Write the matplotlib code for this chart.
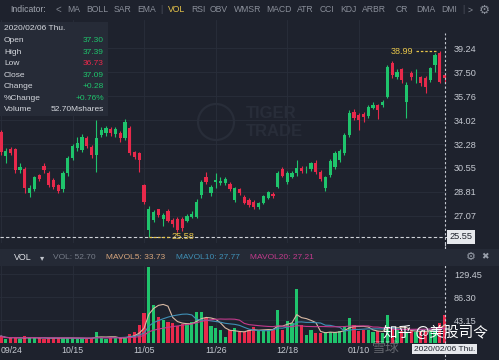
import numpy as np
import pandas as pd
import matplotlib
matplotlib.use('Agg')
import matplotlib.pyplot as plt
from matplotlib.patches import Rectangle, Ellipse

plt.rcParams['font.family'] = ['Liberation Sans', 'DejaVu Sans']

# daily candles, 09/24/2019 .. 02/06/2020
opens  = [33.15, 31.41, 31.92, 31.92, 30.40, 30.47, 28.73, 29.02, 30.04, 30.69,
          30.18, 29.67, 29.31, 29.02, 30.18, 31.27, 31.99, 31.85, 32.72, 32.07,
          31.49, 32.94, 33.08, 33.37, 33.01, 33.08, 32.72, 33.44, 31.70, 31.63,
          29.31, 26.05, 26.78, 27.57, 26.85, 27.43, 26.78, 26.85, 26.85, 26.70,
          27.00, 27.00, 28.59, 29.89, 28.73, 29.53, 29.46, 29.46, 29.39, 28.23,
          29.02, 28.44, 28.23, 28.08, 27.72, 28.01, 28.37, 28.66, 29.17, 30.47,
          29.53, 29.89, 30.18, 30.54, 30.45, 30.47, 30.91, 30.25, 29.10, 30.04,
          30.62, 31.12, 31.63, 32.94, 34.60, 34.38, 34.46, 34.31, 34.89, 35.11,
          35.11, 35.69, 38.15, 37.14, 37.72, 35.33, 37.43, 37.40, 37.14, 37.07,
          36.92, 38.01, 38.87, 37.30]
highs  = [33.30, 32.00, 32.10, 32.00, 30.90, 30.60, 29.30, 30.00, 30.10, 30.90,
          30.30, 29.80, 29.40, 30.30, 31.40, 32.30, 32.80, 33.00, 32.90, 32.20,
          34.02, 33.50, 33.60, 33.50, 33.50, 33.20, 34.10, 33.60, 31.80, 31.70,
          29.40, 27.80, 27.50, 27.60, 27.30, 27.60, 26.90, 27.00, 27.00, 27.20,
          27.40, 28.30, 29.70, 30.25, 29.30, 30.20, 29.90, 29.90, 29.50, 29.20,
          29.10, 28.60, 28.40, 28.20, 28.10, 28.60, 28.90, 28.80, 30.30, 30.60,
          30.30, 30.30, 31.12, 30.70, 30.70, 31.00, 31.12, 30.40, 30.00, 31.20,
          31.80, 31.90, 33.10, 34.75, 34.80, 34.50, 34.60, 35.10, 35.30, 35.20,
          35.50, 38.00, 38.30, 37.70, 37.80, 36.80, 37.60, 37.70, 37.20, 37.20,
          37.90, 38.90, 38.99, 37.39]
lows   = [31.50, 30.91, 31.50, 30.18, 30.20, 28.73, 28.44, 28.90, 29.60, 30.20,
          29.20, 29.00, 28.70, 28.80, 30.00, 31.10, 31.80, 31.70, 32.00, 31.30,
          30.25, 32.80, 32.90, 32.90, 32.80, 32.40, 32.60, 31.50, 31.20, 30.25,
          27.95, 25.58, 26.60, 27.00, 26.34, 26.60, 26.30, 25.90, 26.00, 26.60,
          26.90, 26.90, 28.40, 29.40, 28.50, 29.10, 29.30, 29.30, 28.90, 28.10,
          28.60, 27.90, 27.70, 27.60, 27.60, 27.90, 28.30, 28.40, 29.10, 29.90,
          29.40, 29.80, 30.00, 30.20, 30.20, 30.30, 30.10, 29.60, 28.88, 29.90,
          30.50, 31.00, 31.50, 32.80, 34.00, 33.30, 33.90, 34.20, 34.80, 34.10,
          35.00, 35.60, 37.10, 37.00, 36.70, 34.17, 36.90, 36.70, 36.50, 36.00,
          36.80, 37.50, 36.70, 36.73]
closes = [31.70, 31.78, 31.63, 30.40, 30.62, 29.10, 29.10, 29.89, 29.75, 30.40,
          29.31, 29.17, 28.88, 30.18, 31.27, 32.14, 32.36, 32.79, 32.14, 31.49,
          32.72, 33.30, 33.44, 33.08, 33.37, 32.72, 33.88, 31.63, 31.34, 31.12,
          28.08, 27.57, 27.36, 27.14, 27.14, 26.70, 26.49, 26.05, 26.20, 27.07,
          27.21, 28.08, 29.53, 29.53, 29.17, 29.67, 29.60, 29.75, 29.02, 29.10,
          28.73, 28.01, 27.86, 27.72, 28.01, 28.52, 28.81, 28.52, 30.18, 29.96,
          30.18, 30.18, 30.54, 30.33, 30.47, 30.91, 30.25, 29.75, 29.89, 31.05,
          31.63, 31.78, 32.94, 34.53, 34.17, 34.02, 34.24, 34.96, 35.11, 34.75,
          35.33, 37.86, 37.28, 37.50, 36.92, 36.56, 37.14, 37.45, 36.70, 36.41,
          37.79, 38.73, 36.81, 37.09]
volumes = [13, 8, 9, 11, 7, 13, 9, 10, 9, 8,
           10, 9, 10, 9, 9, 9, 8, 9, 8, 9,
           21, 10, 8, 10, 9, 10, 12, 17, 20, 34,
           56, 143, 71, 49, 43, 40, 37, 32, 35, 37,
           40, 58, 58, 47, 32, 28, 24, 11, 24, 28,
           21, 21, 24, 30, 24, 24, 24, 24, 62, 24,
           41, 38, 101, 34, 15, 24, 18, 18, 21, 21,
           21, 23, 30, 47, 33, 22, 24, 24, 20, 22,
           18, 52, 26, 25, 22, 20, 24, 21, 22, 22,
           26, 30, 38, 52.70]

price_ticks = [39.24, 37.50, 35.76, 34.02, 32.28, 30.55, 28.81, 27.07]
vol_ticks = [129.45, 86.30, 43.15]
date_tick_idx = [0, 15, 30, 45, 60, 75]
date_tick_labels = ['09/24', '10/15', '11/05', '11/26', '12/18', '01/10']
cursor_price = 25.55

menu_items = ['MA', 'BOLL', 'SAR', 'EMA', '|', 'VOL', 'RSI', 'OBV', 'WMSR', 'MACD',
              'ATR', 'CCI', 'KDJ', 'ARBR', 'CR', 'DMA', 'DMI', '|', '>']
menu_x = [67, 86, 114, 137, 160, 168, 191, 210, 234, 266, 297, 320, 340, 362, 396, 416, 441, 462, 468]

info_labels = ['Open', 'High', 'Low', 'Close', 'Change', '%Change', 'Volume']
info_values = ['37.30', '37.39', '36.73', '37.09', '+0.28', '+0.76%', '52.70Mshares']
info_kind = ['up', 'up', 'down', 'up', 'up', 'up', 'plain']

# colours
BG = '#1e222d'
GRID = '#292e3b'
GREEN = '#1fc46c'
RED = '#e8294b'
YELLOW = '#e6c449'
AXTXT = '#c5c9d1'

W, H = 499, 360
def rect(x0, y0, x1, y1):
  return [x0 / W, 1 - y1 / H, (x1 - x0) / W, (y1 - y0) / H]
def fx(px): return px / W
def fy(py): return 1 - py / H

fig = plt.figure(figsize=(W / 100, H / 100), dpi=100, facecolor=BG)

o = np.array(opens); h = np.array(highs); l = np.array(lows); c = np.array(closes)
v = np.array(volumes, dtype=float)
idx = np.arange(len(o))
up = c >= o
cols = np.where(up, GREEN, RED)

# ---- price panel ----
ax_p = fig.add_axes(rect(0, 20, 447, 243))
ax_p.set_facecolor(BG)
ax_p.vlines(idx, l, h, colors=cols, lw=0.8, zorder=3)
ax_p.bar(idx, np.maximum(np.abs(c - o), 0.05), bottom=np.minimum(o, c), width=0.68,
         color=cols, linewidth=0, zorder=4)
ax_p.set_xlim(-0.21, 93.5)
ax_p.set_ylim(25.11, 41.27)
ax_p.set_yticks(price_ticks)
ax_p.set_yticklabels(['{:.2f}'.format(t) for t in price_ticks])
ax_p.yaxis.tick_right()
ax_p.set_xticks(date_tick_idx)
ax_p.set_xticklabels([])
ax_p.tick_params(axis='both', length=0, pad=5, labelsize=6.6, labelcolor=AXTXT)
ax_p.grid(True, color=GRID, lw=0.6)
for s in ax_p.spines.values(): s.set_visible(False)

# cursor lines
ax_p.axhline(cursor_price, color='#d0d3d9', ls=(0, (3, 2)), lw=0.8, zorder=5)
ax_p.text(1.006, cursor_price, '{:.2f}'.format(cursor_price), transform=ax_p.get_yaxis_transform(),
          ha='left', va='center', fontsize=6.6, color='#20242e', zorder=6,
          bbox=dict(boxstyle='square,pad=0.25', fc='#e6e8ec', ec='none'))
ax_p.axvline(idx[-1], ymin=-0.103, ymax=0.94, color='#c8ccd4', ls=(0, (2, 2)), lw=0.8,
             clip_on=False, zorder=5)

# high / low markers
hi_i = int(np.argmax(h)); lo_i = int(np.argmin(l))
ax_p.plot([hi_i - 5.0, hi_i - 0.8], [h[hi_i], h[hi_i]], color=YELLOW, ls=(0, (2, 1.5)), lw=0.9, zorder=6)
ax_p.text(hi_i - 5.5, h[hi_i], '{:.2f}'.format(h[hi_i]), ha='right', va='center',
          fontsize=6.6, color=YELLOW, zorder=6)
ax_p.plot([lo_i, lo_i + 4.4], [l[lo_i], l[lo_i]], color=YELLOW, ls=(0, (2, 1.5)), lw=0.9, zorder=6)
ax_p.text(lo_i + 4.8, l[lo_i], '{:.2f}'.format(l[lo_i]), ha='left', va='center',
          fontsize=6.6, color=YELLOW, zorder=6)

# ---- volume panel ----
ax_v = fig.add_axes(rect(0, 266, 447, 343))
ax_v.set_facecolor(BG)
ax_v.bar(idx, v, width=0.68, color=cols, linewidth=0, zorder=3)
vs = pd.Series(v)
ma5 = vs.rolling(5, min_periods=1).mean()
ma10 = vs.rolling(10, min_periods=1).mean()
ma20 = vs.rolling(20, min_periods=1).mean()
ax_v.plot(idx, ma5, color='#d8b9a3', lw=0.8, zorder=4)
ax_v.plot(idx, ma10, color='#3f8fb5', lw=0.8, zorder=4)
ax_v.plot(idx, ma20, color='#c23a8c', lw=0.8, zorder=4)
ax_v.set_xlim(-0.21, 93.5)
ax_v.set_ylim(0, 144.5)
ax_v.set_yticks(vol_ticks)
ax_v.set_yticklabels(['{:.2f}'.format(t) for t in vol_ticks])
ax_v.yaxis.tick_right()
ax_v.set_xticks(date_tick_idx)
ax_v.set_xticklabels(date_tick_labels)
ax_v.get_xticklabels()[0].set_ha('left')
ax_v.tick_params(axis='y', length=0, pad=5, labelsize=6.6, labelcolor=AXTXT)
ax_v.tick_params(axis='x', length=0, pad=2.5, labelsize=6.3, labelcolor=AXTXT)
ax_v.grid(True, color=GRID, lw=0.6)
for s in ax_v.spines.values(): s.set_visible(False)
ax_v.axvline(idx[-1], ymin=-0.3, ymax=1.3, color='#c8ccd4', ls=(0, (2, 2)), lw=0.8,
             clip_on=False, zorder=5)
ax_v.text(idx[-1], -0.08, '2020/02/06 Thu.', transform=ax_v.get_xaxis_transform(),
          ha='center', va='center', fontsize=6.0, color='#20242e', zorder=7,
          bbox=dict(boxstyle='square,pad=0.2', fc='#e6e8ec', ec='none'))

# ---- overlays in pixel space ----
# volume header band
fig.patches.append(Rectangle((0, fy(266)), 1, (266 - 249) / H, transform=fig.transFigure,
                             fc='#252a36', ec='none', zorder=1))
fig.text(fx(14), fy(257.5), 'VOL', fontsize=6.4, color='#e2e4e9', va='center')
fig.text(fx(40), fy(257.5), '\u25be', fontsize=6, color='#c0c4cc', va='center', family='DejaVu Sans')
fig.text(fx(53), fy(257.5), 'VOL: 52.70', fontsize=6.0, color='#767c88', va='center')
fig.text(fx(106), fy(257.5), 'MAVOL5: 33.73', fontsize=6.0, color='#d6a57c', va='center')
fig.text(fx(176), fy(257.5), 'MAVOL10: 27.77', fontsize=6.0, color='#3f8fb5', va='center')
fig.text(fx(250), fy(257.5), 'MAVOL20: 27.21', fontsize=6.0, color='#c23a8c', va='center')
fig.text(fx(471), fy(257), '\u2699', fontsize=8, color='#9aa0ab', va='center', ha='center', family='DejaVu Sans')
fig.text(fx(485), fy(257), '\u2716', fontsize=6.5, color='#9aa0ab', va='center', ha='center', family='DejaVu Sans')

# top toolbar
fig.text(fx(10), fy(10), 'Indicator:', fontsize=6.2, color='#a3a8b2', va='center')
fig.text(fx(56), fy(10), '<', fontsize=7, color='#7d828d', va='center')
for name, x in zip(menu_items, menu_x):
  col = YELLOW if name == 'VOL' else ('#4a4f5b' if name == '|' else '#8a8f9a')
  fig.text(fx(x), fy(10), name, fontsize=6.2, color=col, va='center')
fig.text(fx(484), fy(10), '\u2699', fontsize=9, color='#8a8f9a', va='center', ha='center', family='DejaVu Sans')

# info box
fig.patches.append(Rectangle((0, fy(116)), fx(108), (116 - 22) / H, transform=fig.transFigure,
                             fc='#262b37', ec='none', zorder=1))
fig.text(fx(4), fy(29), '2020/02/06 Thu.', fontsize=6.0, color='#d5d8de', va='center', zorder=8)
for k, (lab, val, kind) in enumerate(zip(info_labels, info_values, info_kind)):
  y = 41 + k * 11.4
  vc = GREEN if kind == 'up' else (RED if kind == 'down' else '#d5d8de')
  fig.text(fx(4), fy(y), lab, fontsize=6.0, color='#d5d8de', va='center', zorder=8)
  fig.text(fx(104), fy(y), val, fontsize=6.0, color=vc, va='center', ha='right', zorder=8)

# Tiger Trade watermark
wm = '#282d39'
fig.patches.append(Ellipse((fx(216), fy(122)), 36 / W, 36 / H, transform=fig.transFigure,
                           fc='none', ec=wm, lw=1.6, zorder=2))
fig.text(fx(246), fy(114), 'TIGER', fontsize=12, fontweight='bold', color=wm, va='center', zorder=2)
fig.text(fx(246), fy(131), 'TRADE', fontsize=12, fontweight='bold', color=wm, va='center', zorder=2)

# site watermarks
fig.text(fx(372), fy(348), '\u96ea\u7403', fontsize=10, color='#ffffff', alpha=0.3, va='center',
         family=['Noto Sans CJK SC', 'DejaVu Sans'], zorder=8)
fig.text(fx(383), fy(333), '\u77e5\u4e4e @\u7f8e\u80a1\u53f8\u4ee4', fontsize=10.5, color='#ffffff',
         va='center', family=['Noto Sans CJK SC', 'DejaVu Sans'], zorder=9)

fig.savefig('out.png', dpi=100, facecolor=BG)
